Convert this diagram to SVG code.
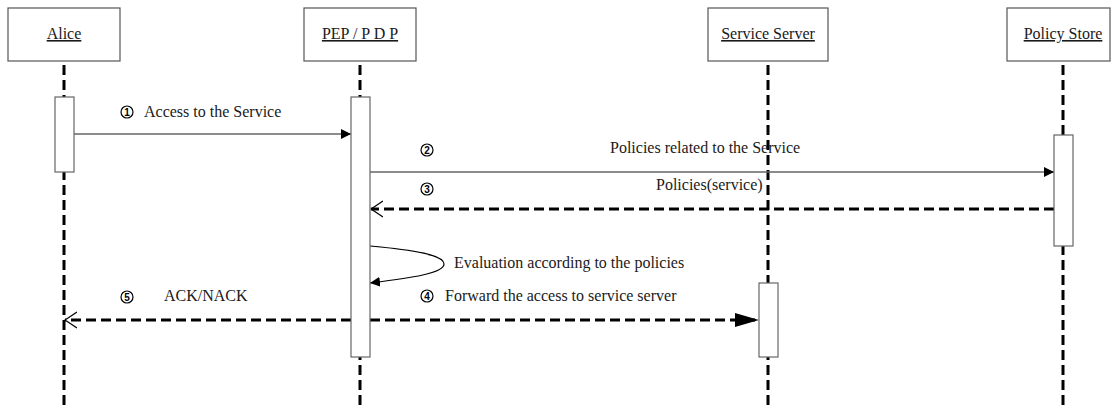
<svg xmlns="http://www.w3.org/2000/svg" width="1111" height="410" viewBox="0 0 1111 410">
<style>
.hdr{fill:#fff;stroke:#555;stroke-width:1.2}
.act{fill:#fff;stroke:#666;stroke-width:1.2}
.life{stroke:#000;stroke-width:3;stroke-dasharray:10 5;fill:none}
.t{font-family:"Liberation Serif",serif;font-size:16px;fill:#1a1a1a}
.h{text-decoration:underline;text-anchor:middle}
.msg{stroke:#666;stroke-width:1.3;fill:none}
.dmsg{stroke:#000;stroke-width:3;stroke-dasharray:10 5;fill:none}
.num circle{fill:#fff;stroke:#000;stroke-width:1.2}
.num text{font-family:"Liberation Sans",sans-serif;font-size:10px;font-weight:bold;text-anchor:middle;fill:#000}
</style>
<defs>
<marker id="fa" markerWidth="10" markerHeight="10" refX="10" refY="5" orient="auto" markerUnits="userSpaceOnUse"><path d="M0,0 L10,5 L0,10 Z" fill="#000"/></marker>
<marker id="fab" markerWidth="24" markerHeight="14" refX="24" refY="7" orient="auto" markerUnits="userSpaceOnUse"><path d="M0,0 L24,7 L0,14 Z" fill="#000"/></marker>
<marker id="oa" markerWidth="13" markerHeight="18" refX="12" refY="9" orient="auto" markerUnits="userSpaceOnUse"><path d="M0,1 L12,9 L0,17" fill="none" stroke="#000" stroke-width="1.3"/></marker>
</defs>

<g id="lifelines">
<line class="life" x1="64" y1="65" x2="64" y2="410"/>
<line class="life" x1="360" y1="65" x2="360" y2="410"/>
<line class="life" x1="768" y1="65" x2="768" y2="410"/>
<line class="life" x1="1063" y1="65" x2="1063" y2="410"/>
</g>

<g id="alice">
<rect class="hdr" x="8" y="8" width="112" height="53"/>
<text class="t h" x="64" y="39">Alice</text>
</g>
<g id="pep">
<rect class="hdr" x="304" y="8" width="112" height="53"/>
<text class="t h" x="360" y="39">PEP / P D P</text>
</g>
<g id="service-server">
<rect class="hdr" x="708" y="8" width="120" height="53"/>
<text class="t h" x="768" y="39">Service Server</text>
</g>
<g id="policy-store">
<rect class="hdr" x="1007" y="8" width="103" height="53"/>
<text class="t h" x="1063" y="39">Policy Store</text>
</g>

<g id="connectors">
<line class="msg" x1="74" y1="134" x2="351" y2="134" marker-end="url(#fa)"/>
<line class="msg" x1="370" y1="172" x2="1054" y2="172" marker-end="url(#fa)"/>
<line class="dmsg" x1="1054" y1="209" x2="371" y2="209" marker-end="url(#oa)"/>
<path class="msg" style="stroke:#000;stroke-width:1.2" d="M370,246 C415,250 444,255 444,264 C444,273 412,278 370,283" marker-end="url(#fa)"/>
<line class="dmsg" x1="370" y1="320" x2="759" y2="320" marker-end="url(#fab)"/>
<line class="dmsg" x1="351" y1="320" x2="65" y2="320" marker-end="url(#oa)"/>
</g>

<g id="activations">
<rect class="act" x="55" y="97" width="19" height="75"/>
<rect class="act" x="351" y="97" width="19" height="260"/>
<rect class="act" x="759" y="283" width="19" height="74"/>
<rect class="act" x="1054" y="135" width="19" height="111"/>
</g>

<g id="labels">
<g class="num"><circle cx="127" cy="112" r="6"/><text x="127" y="115.5">1</text></g>
<text class="t" x="144" y="117">Access to the Service</text>
<g class="num"><circle cx="427" cy="150" r="6"/><text x="427" y="153.5">2</text></g>
<text class="t" x="610" y="153">Policies related to the Service</text>
<g class="num"><circle cx="427" cy="189" r="6"/><text x="427" y="192.5">3</text></g>
<text class="t" x="656" y="190">Policies(service)</text>
<text class="t" x="454" y="268">Evaluation according to the policies</text>
<g class="num"><circle cx="427" cy="296" r="6"/><text x="427" y="299.5">4</text></g>
<text class="t" x="445" y="301">Forward the access to service server</text>
<g class="num"><circle cx="127" cy="297" r="6"/><text x="127" y="300.5">5</text></g>
<text class="t" x="164" y="301">ACK/NACK</text>
</g>
</svg>
